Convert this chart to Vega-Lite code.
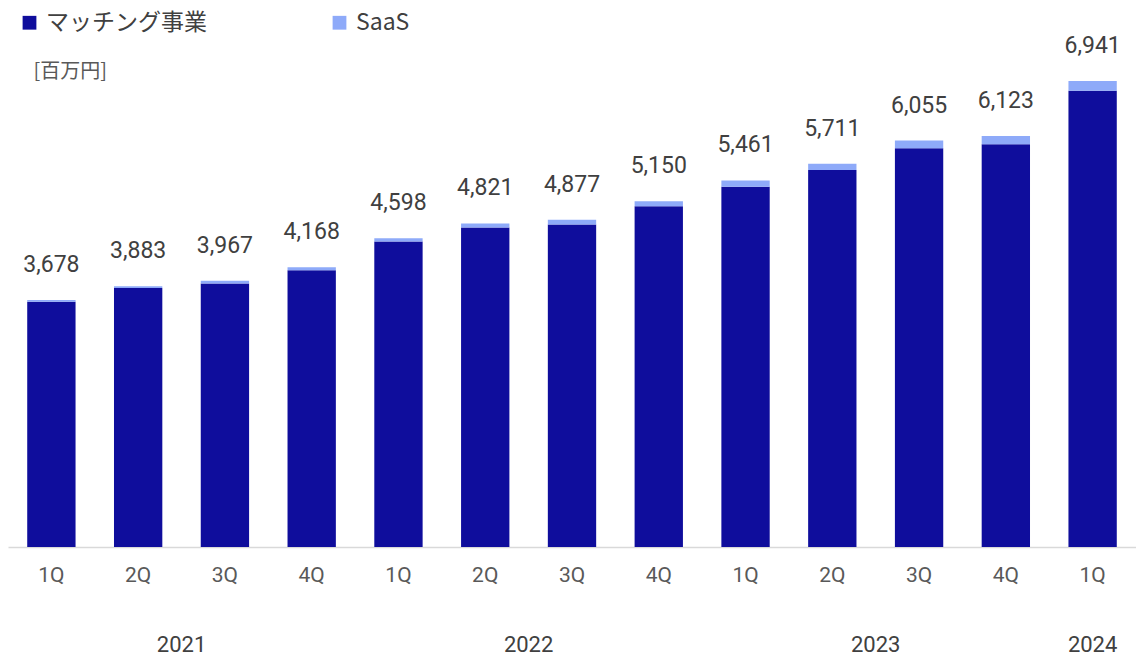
{
  "$schema": "https://vega.github.io/schema/vega-lite/v6.json",
  "autosize": "none",
  "width": 1128,
  "height": 537,
  "padding": {"left": 8, "top": 10, "right": 0, "bottom": 109},
  "background": "white",
  "config": {
    "view": {"stroke": null},
    "font": "Roboto, Noto Sans CJK JP",
    "text": {"font": "Roboto, Noto Sans CJK JP"}
  },
  "layer": [
    {
      "data": {
        "values": [
          {"period": "2021-1Q", "series": "マッチング事業", "value": 3653},
          {"period": "2021-1Q", "series": "SaaS", "value": 25},
          {"period": "2021-2Q", "series": "マッチング事業", "value": 3858},
          {"period": "2021-2Q", "series": "SaaS", "value": 25},
          {"period": "2021-3Q", "series": "マッチング事業", "value": 3927},
          {"period": "2021-3Q", "series": "SaaS", "value": 40},
          {"period": "2021-4Q", "series": "マッチング事業", "value": 4123},
          {"period": "2021-4Q", "series": "SaaS", "value": 45},
          {"period": "2022-1Q", "series": "マッチング事業", "value": 4553},
          {"period": "2022-1Q", "series": "SaaS", "value": 45},
          {"period": "2022-2Q", "series": "マッチング事業", "value": 4761},
          {"period": "2022-2Q", "series": "SaaS", "value": 60},
          {"period": "2022-3Q", "series": "マッチング事業", "value": 4803},
          {"period": "2022-3Q", "series": "SaaS", "value": 74},
          {"period": "2022-4Q", "series": "マッチング事業", "value": 5076},
          {"period": "2022-4Q", "series": "SaaS", "value": 74},
          {"period": "2023-1Q", "series": "マッチング事業", "value": 5367},
          {"period": "2023-1Q", "series": "SaaS", "value": 94},
          {"period": "2023-2Q", "series": "マッチング事業", "value": 5617},
          {"period": "2023-2Q", "series": "SaaS", "value": 94},
          {"period": "2023-3Q", "series": "マッチング事業", "value": 5941},
          {"period": "2023-3Q", "series": "SaaS", "value": 114},
          {"period": "2023-4Q", "series": "マッチング事業", "value": 5999},
          {"period": "2023-4Q", "series": "SaaS", "value": 124},
          {"period": "2024-1Q", "series": "マッチング事業", "value": 6797},
          {"period": "2024-1Q", "series": "SaaS", "value": 144}
        ]
      },
      "layer": [
        {
          "mark": {"type": "bar"},
          "encoding": {
            "x": {
              "field": "period",
              "type": "nominal",
              "sort": "ascending",
              "scale": {"paddingInner": 0.443, "paddingOuter": 0.2215},
              "axis": {
                "title": null,
                "labelExpr": "split(datum.value, '-')[1]",
                "labelAngle": 0,
                "labelFontSize": 21,
                "labelColor": "#595959",
                "labelPadding": 17,
                "ticks": false,
                "domainColor": "#d9d9d9",
                "domainWidth": 1.5,
                "grid": false
              }
            },
            "y": {
              "field": "value",
              "type": "quantitative",
              "aggregate": "sum",
              "stack": "zero",
              "scale": {"domain": [0, 8000], "nice": false},
              "axis": {
                "title": "[百万円]",
                "titleAngle": 0,
                "titleAlign": "left",
                "titleBaseline": "middle",
                "titleX": 25,
                "titleY": 61,
                "titleFontSize": 20,
                "titleFontWeight": "normal",
                "titleColor": "#595959",
                "titleFont": "Noto Sans CJK JP",
                "labels": false,
                "ticks": false,
                "domain": false,
                "grid": false
              }
            },
            "color": {
              "field": "series",
              "type": "nominal",
              "scale": {"domain": ["マッチング事業", "SaaS"], "range": ["#0F0D9C", "#8EAAF9"]},
              "legend": {
                "title": null,
                "orient": "none",
                "direction": "horizontal",
                "legendX": 10,
                "legendY": 1,
                "padding": 0,
                "symbolType": "square",
                "symbolSize": 190,
                "symbolStrokeWidth": 0,
                "labelFontSize": 23,
                "labelColor": "#404040",
                "labelOffset": 5,
                "labelLimit": 400,
                "columnPadding": 121,
                "labelFont": "Noto Sans CJK JP"
              }
            },
            "order": {"field": "series", "sort": "descending"}
          }
        },
        {
          "transform": [
            {"aggregate": [{"op": "sum", "field": "value", "as": "total"}], "groupby": ["period"]}
          ],
          "mark": {"type": "text", "baseline": "alphabetic", "dy": -28, "fontSize": 23, "color": "#404040"},
          "encoding": {
            "x": {"field": "period", "type": "nominal", "sort": "ascending"},
            "y": {"field": "total", "type": "quantitative"},
            "text": {"field": "total", "type": "quantitative", "format": ","}
          }
        }
      ]
    },
    {
      "data": {
        "values": [
          {"year": "2021", "mid": 2},
          {"year": "2022", "mid": 6},
          {"year": "2023", "mid": 10},
          {"year": "2024", "mid": 12.5}
        ]
      },
      "mark": {"type": "text", "baseline": "alphabetic", "dy": 105, "fontSize": 22, "color": "#404040"},
      "encoding": {
        "x": {"field": "mid", "type": "quantitative", "scale": {"domain": [0, 13], "nice": false, "zero": false}, "axis": null},
        "y": {"datum": 0, "type": "quantitative"},
        "text": {"field": "year", "type": "nominal"}
      }
    }
  ],
  "resolve": {"scale": {"x": "independent"}}
}
